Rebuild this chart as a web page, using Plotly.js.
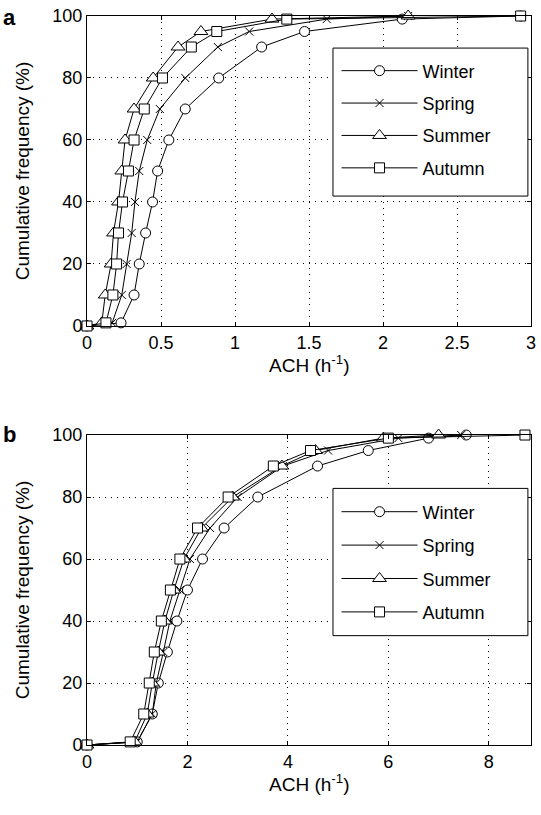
<!DOCTYPE html>
<html><head><meta charset="utf-8">
<script src="https://cdn.plot.ly/plotly-3.0.1.min.js"></script>
<style>html,body{margin:0;padding:0;background:#fff}</style>
</head><body><div id="chart" style="width:541px;height:815px"></div>
<script>
const seasons = ["Winter", "Spring", "Summer", "Autumn"];
const symbols = ["circle", "x-thin", "triangle-up", "square"];
// cumulative frequency levels (%)
const freqLevels = [0, 1, 10, 20, 30, 40, 50, 60, 70, 80, 90, 95, 99, 100];
// panel a: ACH (h^-1)
const achA_winter = [0, 0.23, 0.318, 0.353, 0.396, 0.443, 0.477, 0.553, 0.664, 0.89, 1.18, 1.47, 2.13, 2.93];
const achA_spring = [0, 0.17, 0.235, 0.268, 0.302, 0.324, 0.353, 0.407, 0.492, 0.664, 0.884, 1.096, 1.62, 2.17];
const achA_summer = [0, 0.10, 0.123, 0.163, 0.179, 0.213, 0.235, 0.257, 0.318, 0.447, 0.615, 0.77, 1.25, 2.17];
const achA_autumn = [0, 0.128, 0.175, 0.20, 0.213, 0.24, 0.28, 0.318, 0.387, 0.51, 0.705, 0.877, 1.35, 2.93];
// panel b: ACH (h^-1)
const achB_winter = [0, 1.0, 1.3, 1.42, 1.6, 1.79, 2.0, 2.3, 2.73, 3.4, 4.59, 5.6, 6.8, 7.55];
const achB_spring = [0, 1.0, 1.3, 1.38, 1.52, 1.65, 1.85, 2.05, 2.45, 3.0, 3.9, 4.8, 6.2, 7.45];
const achB_summer = [0, 0.95, 1.2, 1.3, 1.42, 1.55, 1.73, 1.93, 2.28, 2.9, 3.88, 4.55, 5.9, 7.0];
const achB_autumn = [0, 0.86, 1.13, 1.24, 1.34, 1.48, 1.66, 1.85, 2.2, 2.81, 3.71, 4.45, 6.0, 8.72];
const xTicksA = [0, 0.5, 1, 1.5, 2, 2.5, 3];
const xTicksB = [0, 2, 4, 6, 8];
const yTicks = [0, 20, 40, 60, 80, 100];
const xTitle = "ACH (h<sup>-1</sup>)";
const yTitle = "Cumulative frequency (%)";

const A = [achA_winter, achA_spring, achA_summer, achA_autumn];
const B = [achB_winter, achB_spring, achB_summer, achB_autumn];
const FONT = "Liberation Sans, Arial, sans-serif";

function mk(xs, i, xa, ya, leg) {
  const sym = symbols[i];
  const isX = sym === "x-thin";
  return {
    type: "scatter", mode: "lines+markers", x: xs, y: freqLevels,
    xaxis: xa, yaxis: ya, name: seasons[i], legend: leg,
    legendgroup: leg + i,
    line: {color: "black", width: 1},
    marker: {symbol: sym, size: isX ? 8 : (sym === "triangle-up" ? 12 : 10),
             color: isX ? "black" : "white", line: {color: "black", width: 1}},
    cliponaxis: false
  };
}
const traces = [];
for (let i = 0; i < 4; i++) traces.push(mk(A[i], i, "x", "y", "legend"));
for (let i = 0; i < 4; i++) traces.push(mk(B[i], i, "x2", "y2", "legend2"));

const gridDash = "1px,5px";
function xax(range, ticks, anchor) {
  return {range: range, tickvals: ticks, ticktext: ticks.map(String), anchor: anchor,
    showgrid: true, gridcolor: "black", griddash: gridDash, gridwidth: 1,
    zeroline: false, showline: true, linecolor: "black", linewidth: 1, mirror: "ticks",
    ticks: "inside", ticklen: 4, tickcolor: "black",
    tickfont: {family: FONT, size: 18, color: "black"}};
}
function yax(domain, anchor) {
  return {range: [0, 100], domain: domain, tickvals: yTicks, anchor: anchor,
    showgrid: true, gridcolor: "black", griddash: gridDash, gridwidth: 1,
    zeroline: false, showline: true, linecolor: "black", linewidth: 1, mirror: "ticks",
    ticks: "inside", ticklen: 4, tickcolor: "black",
    tickfont: {family: FONT, size: 18, color: "black"},
    title: {text: yTitle, font: {family: FONT, size: 19, color: "black"}, standoff: 17}};
}
function legendCfg(y, gap) {
  return {x: 0.562, y: y, xanchor: "left", yanchor: "top", bgcolor: "rgba(0,0,0,0)",
    borderwidth: 0, font: {family: FONT, size: 18, color: "black"},
    itemwidth: 76, tracegroupgap: gap, traceorder: "grouped", itemclick: false};
}
function box(y0, y1) {
  return {type: "rect", xref: "paper", yref: "paper", x0: 0.554, x1: 0.993, y0: y0, y1: y1,
    fillcolor: "white", line: {color: "black", width: 1}, layer: "above"};
}
function xTitleAnn(y) {
  return {text: xTitle, xref: "paper", yref: "paper", x: 0.5, y: y, xanchor: "center", yanchor: "middle",
    showarrow: false, font: {family: FONT, size: 19, color: "black"}};
}
const layout = {
  width: 541, height: 815, paper_bgcolor: "white", plot_bgcolor: "white",
  margin: {l: 87, r: 10, t: 16, b: 70},
  showlegend: true,
  xaxis: xax([0, 3], xTicksA, "y"),
  yaxis: yax([0.5748, 1], "x"),
  xaxis2: xax([0, 8.84], xTicksB, "y2"),
  yaxis2: yax([0, 0.4252], "x2"),
  legend: legendCfg(0.950, 6),
  legend2: legendCfg(0.345, 7),
  shapes: [box(0.753, 0.956), box(0.150, 0.352)],
  annotations: [
    {text: "<b>a</b>", xref: "paper", yref: "paper", x: -0.193, y: 0.998, xanchor: "left", yanchor: "middle",
     showarrow: false, font: {family: FONT, size: 22, color: "black"}},
    {text: "<b>b</b>", xref: "paper", yref: "paper", x: -0.193, y: 0.4255, xanchor: "left", yanchor: "middle",
     showarrow: false, font: {family: FONT, size: 22, color: "black"}},
    xTitleAnn(0.522),
    xTitleAnn(-0.052)
  ]
};
Plotly.newPlot("chart", traces, layout, {displayModeBar: false, staticPlot: true});
</script></body></html>
